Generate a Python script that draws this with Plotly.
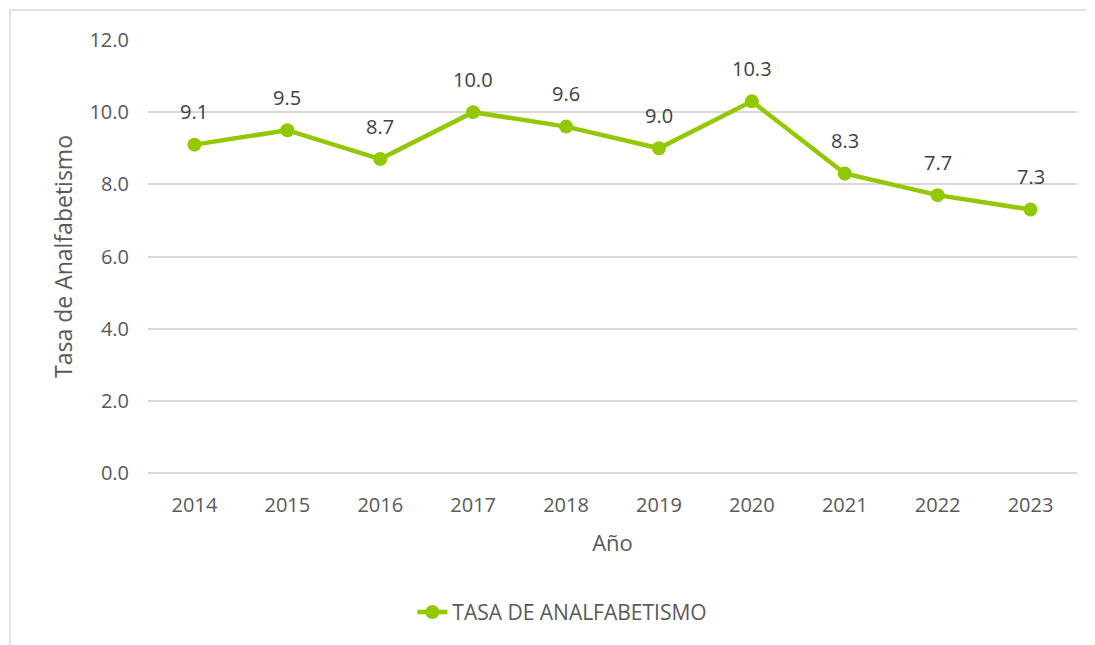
import plotly.graph_objects as go

years = ["2014", "2015", "2016", "2017", "2018", "2019", "2020", "2021", "2022", "2023"]
tasa = [9.1, 9.5, 8.7, 10.0, 9.6, 9.0, 10.3, 8.3, 7.7, 7.3]
y_ticks = [0, 2, 4, 6, 8, 10, 12]

green = "#92C800"
gray = "#595959"
font = "Open Sans, Liberation Sans, sans-serif"

# page has an 8px body margin, so the figure is offset by 8px
L, T = 140, 32
PW, PH = 929, 433

fig = go.Figure()
fig.add_trace(go.Scatter(
    x=years, y=tasa, mode="lines+markers",
    name="TASA DE ANALFABETISMO",
    line=dict(color=green, width=4.5),
    marker=dict(color=green, size=14),
))

# data labels (category index used as x so "2014" isn't read as a number)
for i, v in enumerate(tasa):
    fig.add_annotation(x=i, y=v, text=f"{v:.1f}", showarrow=False,
                       yshift=33, font=dict(size=20, color="#404040", family=font))

# outer chart border (left and top visible)
fig.add_shape(type="rect", xref="paper", yref="paper",
              x0=(2 - L) / PW, x1=(1120 - L) / PW,
              y0=-0.6, y1=(PH + T - 2) / PH,
              line=dict(color="#D9D9D9", width=1.5), layer="below")

fig.update_layout(
    width=1095, height=645,
    margin=dict(l=L, r=1095 - L - PW, t=T, b=645 - T - PH),
    paper_bgcolor="white", plot_bgcolor="white",
    font=dict(family=font, color=gray, size=20),
    showlegend=True,
    legend=dict(orientation="h", x=0.446, xanchor="center", y=-0.322, yanchor="middle",
                font=dict(size=21, color=gray)),
    xaxis=dict(type="category", range=[-0.5, 9.5], showgrid=False, showline=False,
               ticks="", ticklabelstandoff=18, tickfont=dict(size=20, color=gray),
               title=dict(text="Año", font=dict(size=22, color=gray), standoff=18)),
    yaxis=dict(range=[0, 12], tickvals=y_ticks, tickformat=".1f",
               showgrid=True, gridcolor="#D9D9D9", gridwidth=1.5,
               zeroline=True, zerolinecolor="#D9D9D9", zerolinewidth=1.5,
               showline=False, ticks="", ticklabelstandoff=18,
               tickfont=dict(size=20, color=gray),
               title=dict(text="Tasa de Analfabetismo", font=dict(size=23, color=gray), standoff=10)),
)

fig.write_html("out.html")
